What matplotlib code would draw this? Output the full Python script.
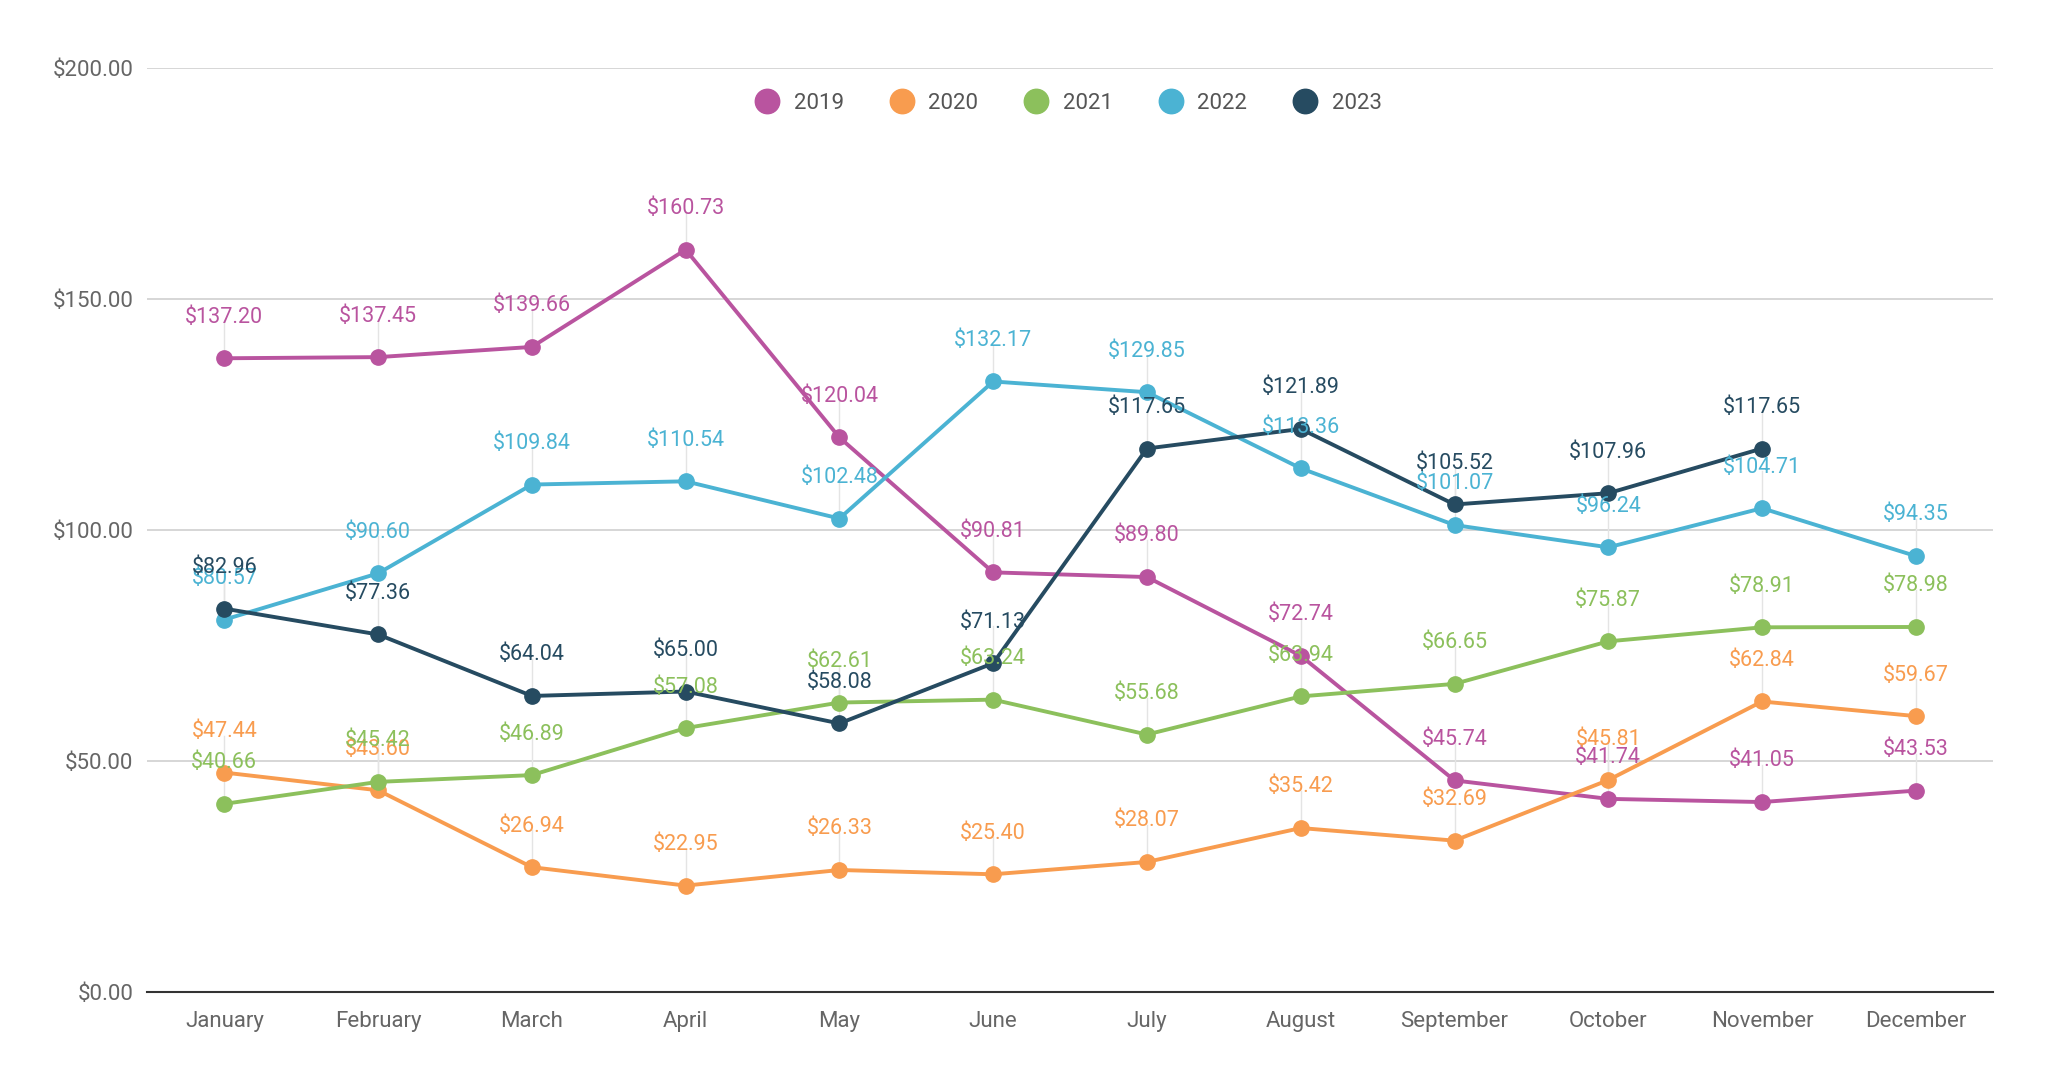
import matplotlib.pyplot as plt
import numpy as np

plt.rcParams["font.family"] = ["Roboto", "DejaVu Sans"]

months = ["January", "February", "March", "April", "May", "June", "July",
          "August", "September", "October", "November", "December"]
years = ["2019", "2020", "2021", "2022", "2023"]
colors = ["#b9549f", "#f89c4f", "#8cc05c", "#4bb3d3", "#264b61"]

v2019 = [137.20, 137.45, 139.66, 160.73, 120.04, 90.81, 89.80, 72.74, 45.74, 41.74, 41.05, 43.53]
v2020 = [47.44, 43.60, 26.94, 22.95, 26.33, 25.40, 28.07, 35.42, 32.69, 45.81, 62.84, 59.67]
v2021 = [40.66, 45.42, 46.89, 57.08, 62.61, 63.24, 55.68, 63.94, 66.65, 75.87, 78.91, 78.98]
v2022 = [80.57, 90.60, 109.84, 110.54, 102.48, 132.17, 129.85, 113.36, 101.07, 96.24, 104.71, 94.35]
v2023 = [82.96, 77.36, 64.04, 65.00, 58.08, 71.13, 117.65, 121.89, 105.52, 107.96, 117.65, None]
series = [v2019, v2020, v2021, v2022, v2023]

fig = plt.figure(figsize=(20.48, 10.86), dpi=100)
ax = fig.add_axes([0.072, 0.087, 0.901, 0.85])
x = np.arange(len(months))

for name, vals, col in zip(years, series, colors):
    xs = [i for i, v in enumerate(vals) if v is not None]
    ys = [v for v in vals if v is not None]
    ax.plot(xs, ys, color=col, lw=2.8, marker="o", ms=11, label=name, zorder=3)
    for xi, yi in zip(xs, ys):
        ax.plot([xi, xi], [yi, yi + 8], color="#e4e4e4", lw=1, zorder=1)
        ax.annotate(f"${yi:.2f}", (xi, yi), xytext=(0, 22), textcoords="offset points",
                    ha="center", va="bottom", color=col, fontsize=15.5, zorder=4)

ax.set_xlim(-0.5, 11.5)
ax.set_ylim(0, 200)
ax.set_xticks(x)
ax.set_xticklabels(months)
ax.set_yticks([0, 50, 100, 150, 200])
ax.set_yticklabels([f"${t:.2f}" for t in [0, 50, 100, 150, 200]])
ax.tick_params(axis="x", colors="#666666", labelsize=16, length=0, pad=14)
ax.tick_params(axis="y", colors="#666666", labelsize=16, length=0, pad=10)
ax.grid(axis="y", color="#d0d0d0", lw=1.2)
for s in ["top", "right", "left"]:
    ax.spines[s].set_visible(False)
ax.spines["bottom"].set_color("#333333")
ax.spines["bottom"].set_linewidth(1.5)
ax.set_axisbelow(True)

leg = ax.legend(loc="upper center", bbox_to_anchor=(0.5, 0.995), ncol=5, frameon=False,
                fontsize=16, handlelength=0.8, columnspacing=2.2, markerscale=1.6)
for h in leg.legend_handles:
    h.set_linestyle("none")
for t in leg.get_texts():
    t.set_color("#555555")

fig.savefig("out.png", dpi=100)
